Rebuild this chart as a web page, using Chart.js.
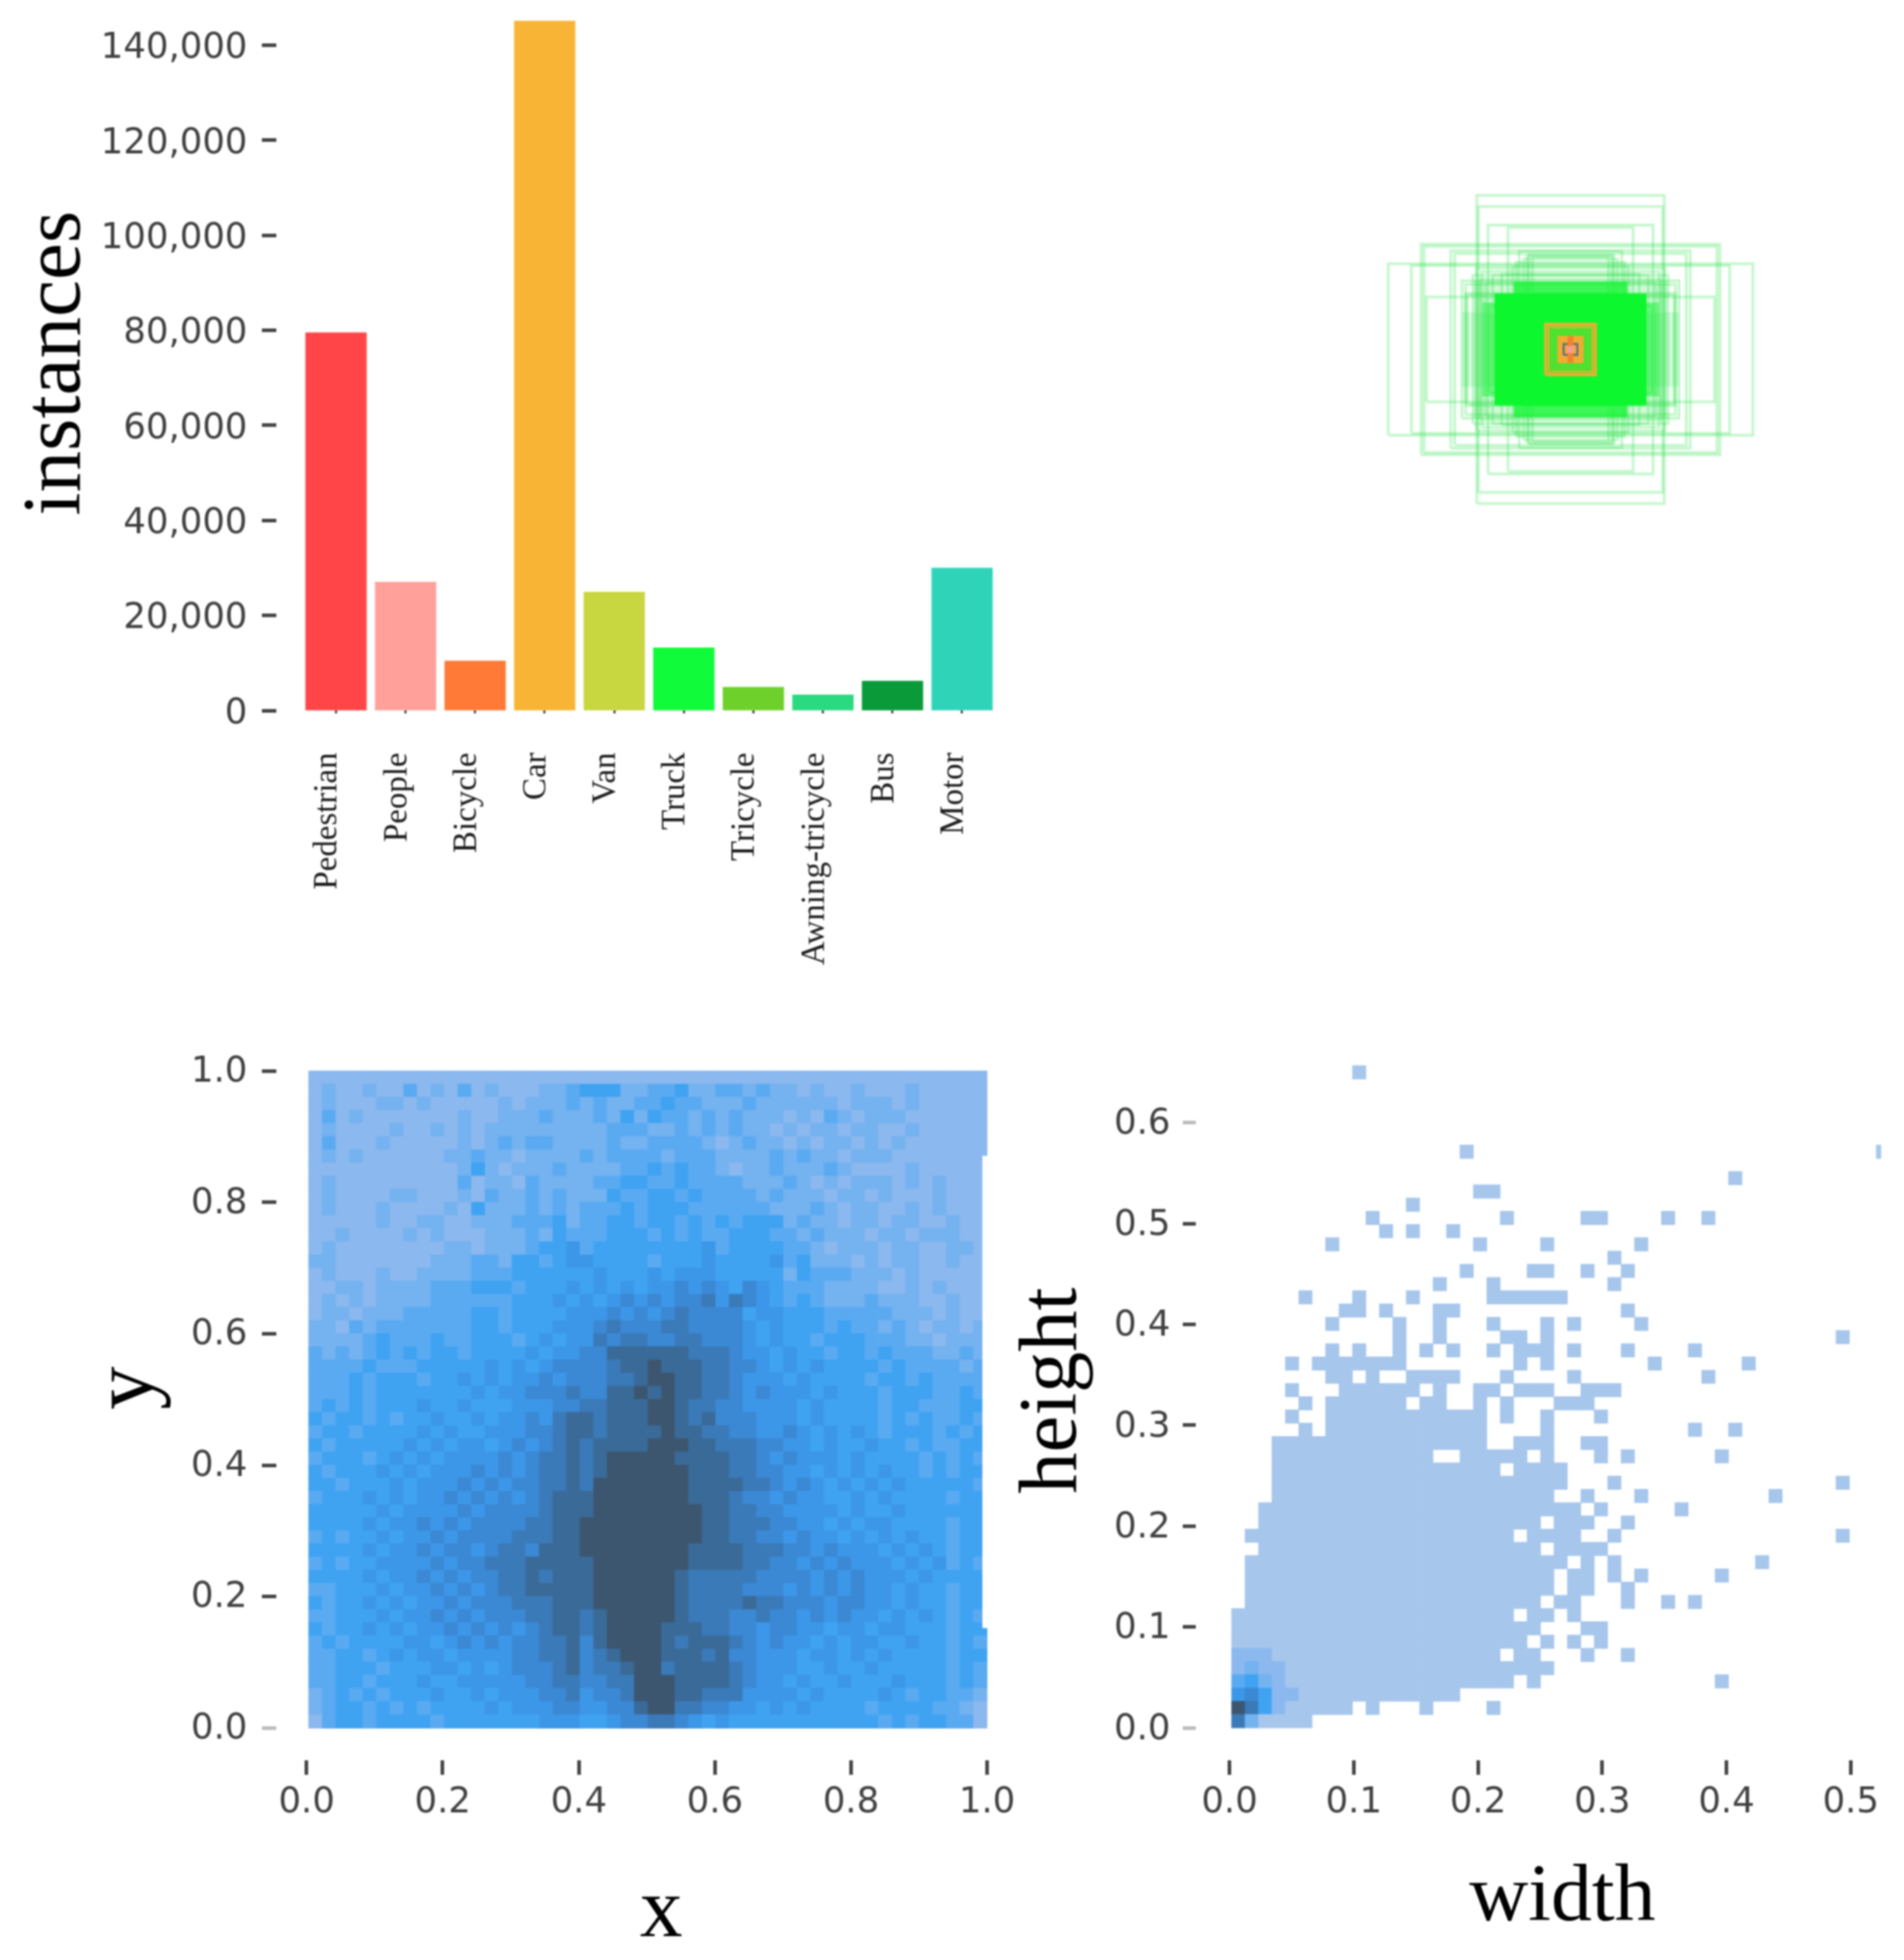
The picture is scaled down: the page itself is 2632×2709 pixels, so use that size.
<!DOCTYPE html>
<html>
<head>
<meta charset="utf-8">
<title>Dataset statistics</title>
<script src="https://cdn.jsdelivr.net/npm/chart.js@4/dist/chart.umd.min.js"></script>
<style>
  html, body { margin: 0; padding: 0; background: #fff; overflow: hidden; width: 2632px; height: 2709px; }
  canvas { position: absolute; filter: blur(1.1px); }
</style>
</head>
<body>
<canvas id="barChart" style="left:0;top:0"></canvas>
<canvas id="boxChart" style="left:1851px;top:243px"></canvas>
<canvas id="xyChart" style="left:0;top:1390px"></canvas>
<canvas id="whChart" style="left:1380px;top:1390px"></canvas>
<script>
/* ===== Data ===== */

const categories = ['Pedestrian', 'People', 'Bicycle', 'Car', 'Van', 'Truck', 'Tricycle', 'Awning-tricycle', 'Bus', 'Motor'];
const instances = [79500, 27000, 10400, 145100, 24900, 13200, 4900, 3300, 6200, 30000];
const barColors = ['#ff4547', '#ffa09a', '#ff7a36', '#f8b434', '#c8d640', '#10fb3a', '#6ed02a', '#2ada80', '#0a9a3a', '#2fd4b8'];
const instanceTicks = [0, 20000, 40000, 60000, 80000, 100000, 120000, 140000];

const xyTicks = [0, 0.2, 0.4, 0.6, 0.8, 1];
const whWidthTicks = [0, 0.1, 0.2, 0.3, 0.4, 0.5];
const whHeightTicks = [0, 0.1, 0.2, 0.3, 0.4, 0.5, 0.6];

// anchor boxes, width and height
const greenBoxW = [259, 255, 504, 440, 413, 405, 331, 320, 228, 173, 398, 142, 115, 130, 150, 260, 300, 290, 290, 270, 245, 215, 285, 250, 235, 190, 120, 105, 160, 225];
const greenBoxH = [426, 395, 237, 232, 291, 285, 273, 265, 344, 337, 145, 272, 262, 250, 240, 225, 190, 180, 155, 205, 215, 205, 150, 195, 185, 208, 258, 255, 230, 120];
const fadedBoxW = [268, 300];
const fadedBoxH = [190, 103];
const solidBoxW = [245, 157, 210];
const solidBoxH = [130, 187, 155];
const orangeBoxW = [69, 61];
const orangeBoxH = [70, 62];

// colour levels, shared by both histograms
const levels = ['#a6c6ec', '#8bb8ee', '#74b2f0', '#5aaaf2', '#3fa3f2', '#3c97e8', '#3b88d4', '#3a7ab8', '#3a6a98', '#3c5670'];

// x / y histogram, top row first
const xyGrid = [
  '1111111111 1111111111 1111111111 1111111111 1111111111',
  '1211211312 1312111223 4442233422 3323221211 2111211111',
  '1211122121 1111212223 2322334332 2232222221 2221211111',
  '1312111111 1211222322 2324243323 2322212132 1222111111',
  '1211112112 1212222222 2233322323 2322121221 2211211111',
  '1311121111 1212323322 2232233332 1232212122 1212111111',
  '1212111111 2232212222 3233332333 2222323221 2221111111',
  '1111111111 1242122232 2223343433 2122322232 1111211111',
  '1211111111 1312213222 2334433433 3322232121 2221212111',
  '1211112211 1213223232 2243344343 3332322212 2121112111',
  '1211121111 2142223232 3334344433 3333222321 2211212111',
  '1111121122 1122233342 3344344343 4344423221 2212211211',
  '1121111212 1112223243 3344434343 3444332322 2122122211',
  '1211111111 2212223445 3444444445 3444433212 2212211221',
  '2211111112 2233244345 5444434445 4444534222 1212211211',
  '1211121122 2233344444 4544454555 4444424333 2221211111',
  '1122122223 3344434445 4545455656 5465433322 2211212111',
  '1212122223 3333344454 5456565667 5765434322 2322211211',
  '1221222333 3344344445 5565656766 6645544433 3332221211',
  '2213233333 3344344455 5676667766 6654544434 3323212212',
  '2222343334 3344434545 5767766776 6654544344 4333221222',
  '3232343434 4344445455 6688888877 7655454434 4343332232',
  '3333433344 4445454566 6678898887 7665454544 4434333323',
  '3334344434 4545455656 6677899887 7655545444 4344343333',
  '3334344444 4454556667 6688989887 7656555454 4434443343',
  '3434344454 4544455566 7788899877 6655554544 4434433344',
  '4344343445 4454556578 8788899878 6665554544 4434343343',
  '3443444454 5445556678 8788889887 7665565454 5434443434',
  '4344444545 4554565678 7888899988 7776655454 4544343344',
  '3444345454 5555656778 7899999888 8776565554 5444434343',
  '4344454545 5565656778 7899999988 8776655454 5454434344',
  '4434445455 5656566778 7999999988 8877656545 4545444443',
  '3444545455 6565656788 8999999988 8766565544 5454444344',
  '4444454555 5656666788 8999999998 8776655554 5445444444',
  '4444545565 6566667788 9999999998 8777665545 4554444344',
  '3434454556 5666677788 9999999998 8776656554 5454544344',
  '4444545565 6656776888 9999999988 8877766565 5545454344',
  '3434455556 5667778888 8999999988 8877665656 5554545343',
  '4444545565 6566778788 8999999877 7776666565 6555454444',
  '3344454556 5656778888 8999999877 7766656565 6554544344',
  '4344545455 6566677788 8999999877 7787766656 6554544344',
  '3344454556 5656667788 7899999877 7667665656 5545454343',
  '4344545455 6565656788 7899998887 7665665545 5455444344',
  '3434444554 5656566778 6899998788 8765655454 5544544343',
  '3344345455 4555566778 6789998887 8665554554 5454444344',
  '3344434445 5454566678 6778997888 8765554454 4544444343',
  '3344344454 4555556677 6677999888 8765545445 4445444343',
  '2343434445 4454555667 5667999887 7755554544 4454344332',
  '2344343434 4445455566 5566899776 6554545444 4344443321',
  '1344344443 4444444555 4456677654 5444444444 4434344331'
];

// width / height histogram, top row first, dots are empty bins
const whGrid = [
  '.........0 .......... .......... .......... ..........',
  '.......... .......... .......... .......... ..........',
  '.......... .......... .......... .......... ..........',
  '.......... .......... .......... .......... ..........',
  '.......... .......... .......... .......... ..........',
  '.......... .......... .......... .......... ..........',
  '.......... .......0.. .......... .......... ........0.',
  '.......... .......... .......... .......... ..........',
  '.......... .......... .......... .......0.. ..........',
  '.......... ........00 .......... .......... ..........',
  '.......... ...0...... .......... .......... ..........',
  '.......... 0......... 0.....00.. ..0..0.... ..........',
  '.......... .0.0..0... .......... .......... ..........',
  '.......0.. ........0. ...0...... 0......... ..........',
  '.......... .......... ........0. .......... ..........',
  '.......... .......0.. ..00..0..0 .......... ..........',
  '.......... .....0...0 ........0. .......... ..........',
  '.....0...0 ...0.....0 00000..... .......... ..........',
  '........00 .0...00... .........0 .......... ..........',
  '.......0.. ..0..0...0 ...0.0.... 0......... ..........',
  '.......... ..0..0.... 00.0...... .......... .....0....',
  '.......0.0 ..0.0.0..0 .000.0...0 ....0..... ..........',
  '....0.0000 000....... .0.0...... .0......0. ..........',
  '.......00. 0..0000... 0....0.... .....0.... ..........',
  '....0...00 0000.0..00 .000..000. .......... ..........',
  '.....0.000 000.00..0. 0...000... .......... ..........',
  '....0..000 000000000. 0..0...0.. .......... ..........',
  '.....0.000 000000000. ...0...... ....0..0.. ..........',
  '...0000000 000000000. .000..00.. .......... ..........',
  '...0000000 00000..000 00.0...0.0 ......0... ..........',
  '...0000000 0000000000 .0000..... .......... ..........',
  '...0000000 0000000000 00000...0. .......... .....0....',
  '...0000000 0000000000 0000..0... 0......... 0.........',
  '..00000000 0000000000 000000.0.. ...0...... ..........',
  '..00000000 0000000000 000.000..0 .......... ..........',
  '.000000000 0000000000 0.0000..0. .......... .....0....',
  '..00000000 0000000000 000.0000.. .......... ..........',
  '.000000000 0000000000 00000.0.0. .........0 ..........',
  '.000000000 0000000000 0000.00.0. 0.....0... ..........',
  '.000000000 0000000000 0000.00..0 .......... ..........',
  '.000000000 0000000000 000.00...0 ..0.0..... ..........',
  '0000000000 0000000000 0.00.0.... .......... ..........',
  '0000000000 0000000000 000...00.. .......... ..........',
  '0000000000 0000000000 00.0.0.0.. .......... ..........',
  '1110000000 0000000000 .00...0..0 .......... ..........',
  '1211000000 0000000000 0000...... .......... ..........',
  '3421000000 0000000000 0.0....... ......0... ..........',
  '5641100000 0000000... .......... .......... ..........',
  '974100000. 0...0....0 .......... .......... ..........',
  '720000.... .......... .......... .......... ..........'
];

/* ===== Helpers ===== */

const TICK_FONT = { family: 'DejaVu Sans', size: 49 };
const TITLE_FAMILY = 'Liberation Serif';
const TICK_COLOR = '#444';

Chart.defaults.animation = false;
Chart.defaults.responsive = false;
Chart.defaults.devicePixelRatio = 1;
Chart.defaults.plugins.legend.display = false;
Chart.defaults.plugins.tooltip.enabled = false;

function setCanvas(id, w, h) {
  const c = document.getElementById(id);
  c.width = w;
  c.height = h;
  c.style.width = w + 'px';
  c.style.height = h + 'px';
  return c;
}

function axisOptions(opts) {
  return {
    type: 'linear',
    offset: false,
    min: opts.min,
    max: opts.max,
    border: { display: false },
    grid: {
      offset: false,
      drawOnChartArea: false,
      tickLength: opts.tickLength,
      tickWidth: opts.tickWidth,
      tickColor: opts.tickColor || TICK_COLOR
    },
    afterBuildTicks: axis => { axis.ticks = opts.ticks.map(value => ({ value })); },
    afterFit: axis => {
      // fixed axis size, and no extra room for the end labels
      if (axis.isHorizontal()) axis.height = opts.size;
      else axis.width = opts.size;
      axis.paddingTop = axis.paddingBottom = axis.paddingLeft = axis.paddingRight = 0;
    },
    ticks: {
      font: opts.font || TICK_FONT,
      color: opts.labelColor || '#3f3f3f',
      padding: opts.padding,
      autoSkip: false,
      minRotation: opts.rotation || 0,
      maxRotation: opts.rotation || 0,
      labelOffset: opts.labelOffset || 0,
      callback: opts.format
    },
    title: {
      display: !!opts.title,
      text: opts.title,
      color: '#000',
      font: { family: TITLE_FAMILY, size: opts.titleSize, lineHeight: 1 },
      padding: opts.titlePadding
    }
  };
}

function gridDataset(grid, toX, toY, radius, clip) {
  const points = [];
  const colors = [];
  grid.forEach((row, r) => {
    row.replace(/ /g, '').split('').forEach((cell, c) => {
      if (cell === '.') return;
      points.push({ x: toX(c), y: toY(r) });
      colors.push(levels[Number(cell)]);
    });
  });
  return {
    type: 'scatter',
    data: points,
    pointStyle: 'rect',
    pointRadius: radius,
    pointBorderWidth: 0,
    pointBackgroundColor: colors,
    clip: clip
  };
}

/* ===== Instances per class ===== */

setCanvas('barChart', 1400, 1400);
new Chart('barChart', {
  type: 'bar',
  data: {
    datasets: [{
      data: categories.map((c, i) => ({ x: i, y: instances[i] })),
      backgroundColor: barColors,
      barThickness: 84,
      clip: false
    }]
  },
  options: {
    layout: { padding: { top: 22, right: 22 } },
    scales: {
      x: axisOptions({
        min: -0.858, max: 9.5, ticks: categories.map((c, i) => i), size: 418,
        tickLength: 4, tickWidth: 3, padding: 54, rotation: 90, labelOffset: -11,
        font: { family: TITLE_FAMILY, size: 45.5 }, labelColor: '#1c1c1c',
        format: v => categories[v]
      }),
      y: axisOptions({
        min: 0, max: 146160, ticks: instanceTicks, size: 382,
        tickLength: 20, tickWidth: 5, padding: 20, labelOffset: 5,
        format: v => v.toLocaleString('en-US'),
        title: 'instances', titleSize: 115, titlePadding: { top: 22, bottom: 0 }
      })
    }
  }
});

/* ===== Anchor boxes ===== */

function boxDataset(w, h, color, lineWidth, fill) {
  return {
    type: 'scatter',
    showLine: true,
    data: [
      { x: -w / 2, y: -h / 2 }, { x: w / 2, y: -h / 2 },
      { x: w / 2, y: h / 2 }, { x: -w / 2, y: h / 2 }, { x: -w / 2, y: -h / 2 }
    ],
    borderColor: color,
    borderWidth: lineWidth,
    backgroundColor: color,
    fill: fill ? 'shape' : false,
    pointRadius: 0,
    tension: 0
  };
}

setCanvas('boxChart', 640, 480);
new Chart('boxChart', {
  type: 'scatter',
  data: {
    datasets: [
      boxDataset(8, 10, '#f79aa0', 0, true),
      boxDataset(8, 37, '#f0842c', 0, true),
      boxDataset(19, 15, '#66708a', 3, false),
      boxDataset(36, 38, '#f0ac30', 0, true),
      boxDataset(orangeBoxW[1], orangeBoxH[1], 'rgba(232,176,48,0.8)', 3, false),
      boxDataset(orangeBoxW[0], orangeBoxH[0], '#e8b030', 4, false),
      boxDataset(69, 70, 'rgba(120,210,50,0.6)', 0, true),
      boxDataset(solidBoxW[2], solidBoxH[2], '#0df72e', 0, true),
      boxDataset(solidBoxW[1], solidBoxH[1], 'rgba(13,247,46,0.75)', 0, true),
      boxDataset(solidBoxW[0], solidBoxH[0], 'rgba(13,247,46,0.45)', 0, true),
      boxDataset(fadedBoxW[0], fadedBoxH[0], 'rgba(40,225,70,0.22)', 0, true),
      boxDataset(fadedBoxW[1], fadedBoxH[1], 'rgba(40,225,70,0.18)', 0, true)
    ].concat(greenBoxW.map((w, i) => boxDataset(w, greenBoxH[i], 'rgba(40,225,70,0.26)', 4, false)))
  },
  options: {
    layout: { padding: 0 },
    scales: {
      x: { display: false, min: -320, max: 320 },
      y: { display: false, min: -240, max: 240 }
    }
  }
});

/* ===== x / y histogram ===== */

setCanvas('xyChart', 1460, 1319);
new Chart('xyChart', {
  type: 'scatter',
  data: {
    datasets: [
      {
        // white strip cut out of the right edge in the original
        type: 'line',
        data: [{ x: 0.9974, y: 0.152 }, { x: 0.9974, y: 0.871 }],
        borderColor: '#fff',
        borderWidth: 8,
        pointRadius: 0,
        parsing: false
      },
      gridDataset(xyGrid, c => 0.003 + (c + 0.5) * 0.01994, r => (49 - r + 0.5) / 50, 13.8, 0)
    ]
  },
  options: {
    layout: { padding: { top: 9, right: 10 } },
    scales: {
      x: axisOptions({
        min: -0.0445, max: 1.0869, ticks: xyTicks, size: 276,
        tickLength: 20, tickWidth: 5, padding: 10,
        format: v => v.toFixed(1),
        title: 'x', titleSize: 118, titlePadding: { top: 0, bottom: 5 }
      }),
      y: axisOptions({
        min: -0.0493, max: 1.0844, ticks: xyTicks, size: 382,
        tickLength: 20, tickWidth: 5, padding: 20, labelOffset: 2,
        tickColor: ['#bbb', '#444', '#444', '#444', '#444', '#444'],
        format: v => v.toFixed(1),
        title: 'y', titleSize: 120, titlePadding: { top: 118, bottom: 0 }
      })
    }
  }
});

/* ===== width / height histogram ===== */

setCanvas('whChart', 1300, 1319);
new Chart('whChart', {
  type: 'scatter',
  data: {
    datasets: [
      gridDataset(whGrid, c => 0.0017 + (c + 0.5) * 0.01081, r => (49 - r + 0.5) * 0.01313, 13.6,
        { left: 0, top: 0, right: -66, bottom: 0 })
    ]
  },
  options: {
    layout: { padding: { top: 21, right: 5 } },
    scales: {
      x: axisOptions({
        min: -0.02714, max: 0.5629, ticks: whWidthTicks, size: 276,
        tickLength: 20, tickWidth: 5, padding: 10,
        format: v => v.toFixed(1),
        title: 'width', titleSize: 113, titlePadding: { top: 0, bottom: 28 }
      }),
      y: axisOptions({
        min: -0.03228, max: 0.7009, ticks: whHeightTicks, size: 273,
        tickLength: 18, tickWidth: 5, padding: 17, labelOffset: 3,
        tickColor: ['#bbb', '#444', '#444', '#444', '#444', '#444', '#bbb'],
        format: v => v.toFixed(1),
        title: 'height', titleSize: 114, titlePadding: { top: 20, bottom: 0 }
      })
    }
  }
});
</script>
</body>
</html>
